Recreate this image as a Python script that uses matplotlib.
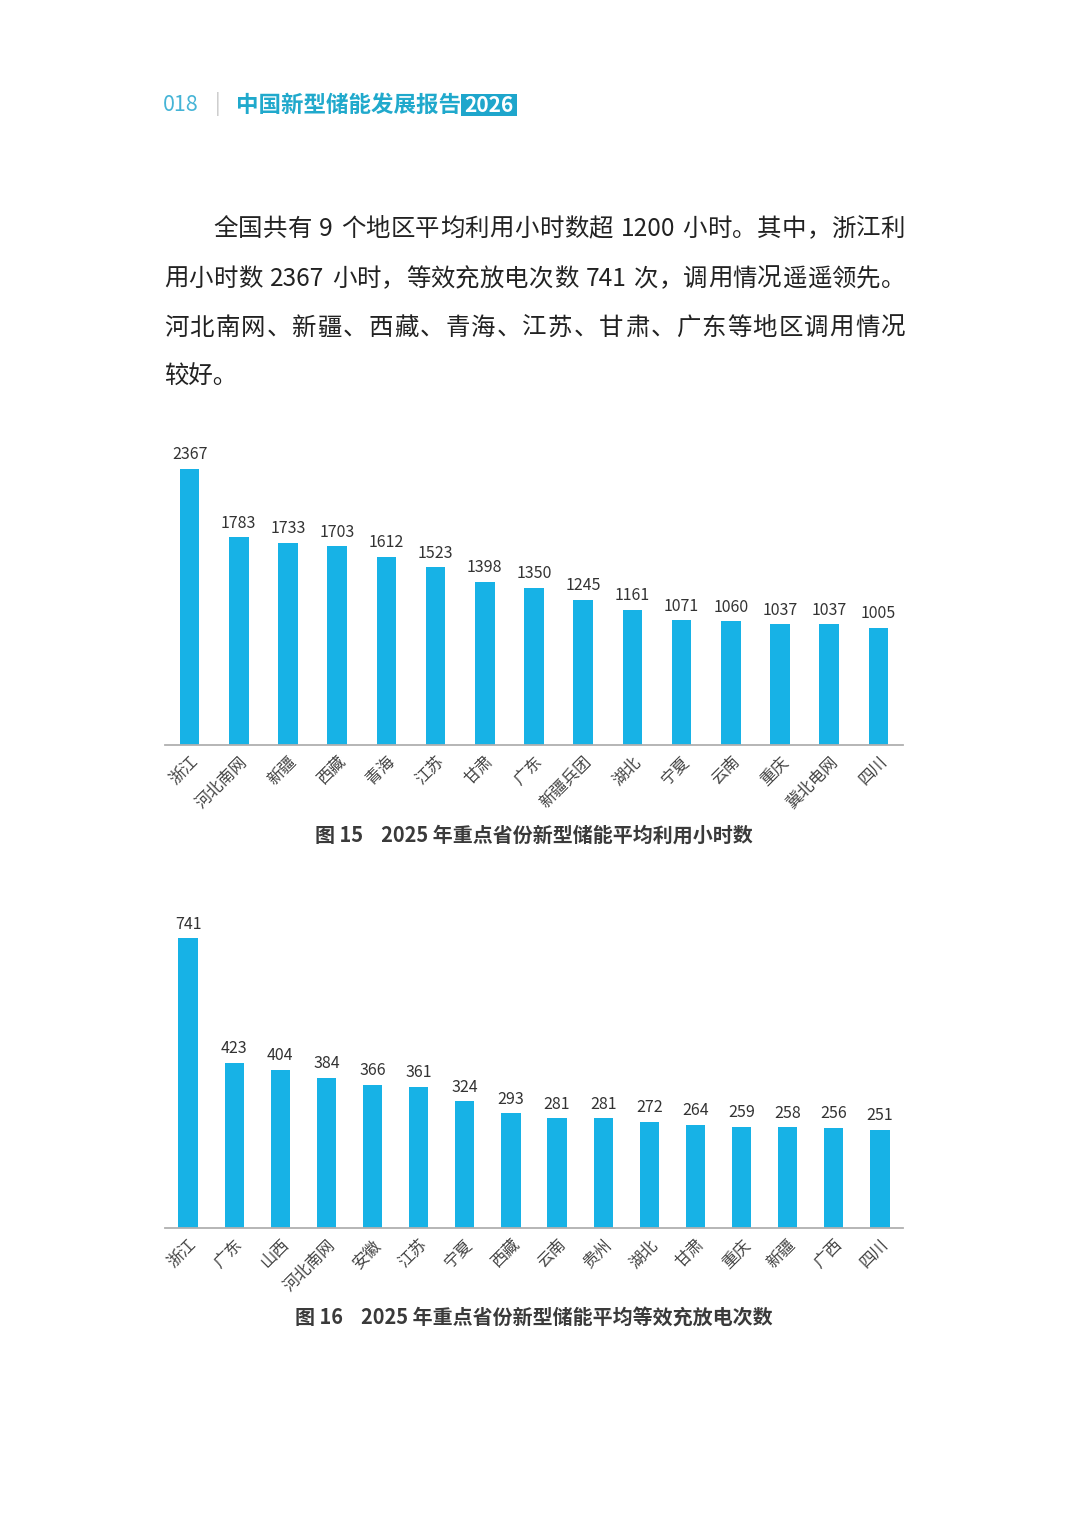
import re
import matplotlib.pyplot as plt
from matplotlib.patches import Rectangle

plt.rcParams['font.family'] = ['Noto Sans CJK SC', 'DejaVu Sans']

# 图15 数据
regions_hours = ['浙江', '河北南网', '新疆', '西藏', '青海', '江苏', '甘肃', '广东',
                 '新疆兵团', '湖北', '宁夏', '云南', '重庆', '冀北电网', '四川']
hours = [2367, 1783, 1733, 1703, 1612, 1523, 1398, 1350,
         1245, 1161, 1071, 1060, 1037, 1037, 1005]

# 图16 数据
regions_cycles = ['浙江', '广东', '山西', '河北南网', '安徽', '江苏', '宁夏', '西藏',
                  '云南', '贵州', '湖北', '甘肃', '重庆', '新疆', '广西', '四川']
cycles = [741, 423, 404, 384, 366, 361, 324, 293,
          281, 281, 272, 264, 259, 258, 256, 251]

body_lines = [
    '全国共有 9 个地区平均利用小时数超 1200 小时。其中，浙江利',
    '用小时数 2367 小时，等效充放电次数 741 次，调用情况遥遥领先。',
    '河北南网、新疆、西藏、青海、江苏、甘肃、广东等地区调用情况',
    '较好。',
]

BAR = '#17b2e6'
W, H = 1080, 1518

fig = plt.figure(figsize=(W / 100, H / 100), dpi=100)
fig.patch.set_facecolor('white')
renderer = fig.canvas.get_renderer()


def fx(px):
    return px / W


def fy(py):
    return 1 - py / H


# 页眉
fig.text(fx(163), fy(105), '018', fontsize=15.5, color='#45b4d6', va='center', ha='left')
fig.text(fx(215), fy(104), '|', fontsize=15, color='#c8c8c8', va='center', ha='left')
fig.text(fx(236), fy(105), '中国新型储能发展报告', fontsize=16.2, color='#20a9cc',
         fontweight='bold', va='center', ha='left')
fig.patches.append(Rectangle((fx(461), fy(116)), fx(56), 22 / H, transform=fig.transFigure,
                             facecolor='#1ea6cc', edgecolor='none'))
fig.text(fx(489), fy(105), '2026', fontsize=15, color='white', fontweight='bold',
         va='center', ha='center')

# 正文（前三行两端对齐）
line_y = [229, 279, 328, 377]
line_x = [213, 164, 164, 164]
line_end = [905, 905, 905, None]
body_size = 17.6
space_w = 7


def text_width(s):
    t = fig.text(0, 0, s, fontsize=body_size)
    w = t.get_window_extent(renderer).width
    t.remove()
    return w


for s, x0, y, x1 in zip(body_lines, line_x, line_y, line_end):
    if x1 is None:
        fig.text(fx(x0), fy(y), s, fontsize=body_size, color='#222222', va='center', ha='left')
        continue
    tokens = re.findall(r'\d+|.', s)
    widths = [text_width(tk) if tk != ' ' else space_w for tk in tokens]
    gap = ((x1 - x0) - sum(widths)) / (len(tokens) - 1)
    x = x0
    for tk, w in zip(tokens, widths):
        if tk != ' ':
            fig.text(fx(x), fy(y), tk, fontsize=body_size, color='#222222',
                     va='center', ha='left')
        x += w + gap


def bar_chart(rect, labels, values, ymax, width, caption, cap_y):
    ax = fig.add_axes(rect)
    xs = range(len(values))
    ax.bar(xs, values, width=width, color=BAR)
    ax.set_xlim(-0.5, len(values) - 0.5)
    ax.set_ylim(0, ymax)
    for s in ['top', 'right', 'left']:
        ax.spines[s].set_visible(False)
    ax.spines['bottom'].set_color('#b0b0b0')
    ax.spines['bottom'].set_linewidth(1.3)
    ax.set_yticks([])
    ax.set_xticks(list(xs))
    ax.set_xticklabels(labels, rotation=45, ha='right', rotation_mode='anchor',
                       fontsize=11.8, color='#444444')
    ax.tick_params(axis='x', length=0, pad=6)
    for x, v in zip(xs, values):
        ax.annotate(str(v), (x, v), xytext=(0, 4), textcoords='offset points',
                    ha='center', va='bottom', fontsize=11.5, color='#333333')
    fig.text(0.494, fy(cap_y), caption, fontsize=14.4, color='#3a3a3a', fontweight='bold',
             ha='center', va='center')
    return ax


bar_chart([fx(165), (H - 745) / H, fx(738), 2600 * 0.1166 / H],
          regions_hours, hours, 2600, 0.40,
          '图 15    2025 年重点省份新型储能平均利用小时数', 835)

bar_chart([fx(165), (H - 1228) / H, fx(738), 800 * 0.391 / H],
          regions_cycles, cycles, 800, 0.42,
          '图 16    2025 年重点省份新型储能平均等效充放电次数', 1318)

fig.savefig('out.png', dpi=100, facecolor='white')
